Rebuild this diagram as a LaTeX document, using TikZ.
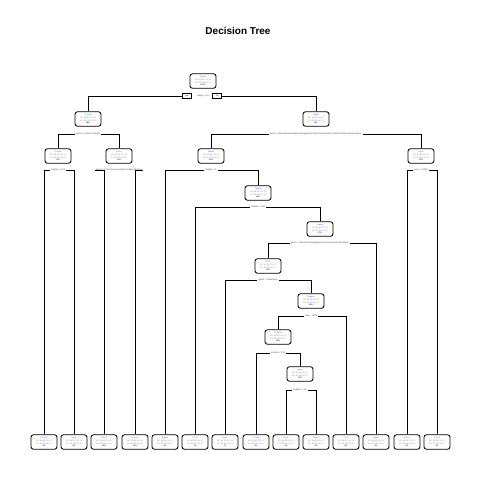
\documentclass[tikz,border=0pt]{standalone}
\usepackage{fontspec}
\setmainfont{Liberation Sans}
\definecolor{ca}{RGB}{230,60,60}
\definecolor{cb}{RGB}{60,160,60}
\definecolor{cc}{RGB}{60,90,220}
\definecolor{cd}{RGB}{200,60,200}
\definecolor{ce}{RGB}{220,150,40}
\definecolor{lab}{RGB}{70,70,70}
\newcommand\nums{\textcolor{ca}{.20} \textcolor{cb}{.18} \textcolor{cc}{.22} \textcolor{cd}{.21} \textcolor{ce}{.19}}
\newcommand\numsb{\textcolor{ca}{.12} \textcolor{cb}{.25} \textcolor{cc}{.19} \textcolor{cd}{.24} \textcolor{ce}{.20}}
\newcommand\bxt[3]{\textcolor{#2}{#1}\\\nums\\\numsb\\#3}
\tikzset{
  bx/.style={draw, rounded corners=2.5pt, line width=0.85pt, minimum width=26pt, minimum height=14.5pt,
    inner sep=0.5pt, align=center, font=\fontsize{2}{2.7}\selectfont, fill=white},
  splab/.style={fill=white, inner xsep=1pt, inner ysep=0.4pt, text=lab, font=\fontsize{2.3}{2.7}\selectfont},
  yn/.style={draw, line width=0.7pt, minimum width=9pt, minimum height=5.5pt, inner sep=0pt, font=\fontsize{2.2}{2.6}\selectfont},
  br/.style={line width=0.8pt},
}
\begin{document}
\begin{tikzpicture}[x=1pt,y=-1pt]
\useasboundingbox (0,0) rectangle (480,480);
\node[font=\bfseries\fontsize{10}{12}\selectfont] (title) at (238,31) {Decision Tree};
% internal nodes
\node[bx] (n0) at (203,81) {\bxt{Drama}{cc}{100\%}};
\node[bx] (nL) at (88,119) {\bxt{Comedy}{cb}{38\%}};
\node[bx] (nR) at (316,119) {\bxt{Drama}{cc}{62\%}};
\node[bx] (nLL) at (58,156) {\bxt{Comedy}{cb}{17\%}};
\node[bx] (nLR) at (119,156) {\bxt{Action}{ca}{21\%}};
\node[bx] (nRL) at (211,156) {\bxt{Drama}{cc}{52\%}};
\node[bx] (nRR) at (421,156) {\bxt{Horror}{cd}{10\%}};
\node[bx] (n258) at (258,193) {\bxt{Drama}{cc}{44\%}};
\node[bx] (n320) at (320,229) {\bxt{Drama}{cc}{37\%}};
\node[bx] (n268) at (268,266) {\bxt{Thriller}{ce}{31\%}};
\node[bx] (n311) at (311,301) {\bxt{Drama}{cc}{24\%}};
\node[bx] (n278) at (278,337) {\bxt{Comedy}{cb}{19\%}};
\node[bx] (n300) at (300,374) {\bxt{Drama}{cc}{11\%}};
% leaves
\foreach \i/\x/\c/\cl/\p in {1/44/Comedy/cb/9\%, 2/74/Action/ca/8\%, 3/104/Action/ca/10\%, 4/135/Comedy/cb/11\%,
  5/165/Drama/cc/8\%, 6/195/Thriller/ce/7\%, 7/225/Action/ca/7\%, 8/256/Comedy/cb/8\%, 9/286/Horror/cd/5\%,
  10/316/Drama/cc/6\%, 11/346/Thriller/ce/5\%, 12/376/Drama/cc/6\%, 13/407/Horror/cd/5\%, 14/437/Thriller/ce/5\%}
  \node[bx] (l\i) at (\x,442) {\bxt{\c}{\cl}{\p}};
% split labels
\node[splab] (s0) at (203,96) {rating < 6.5};
\node[yn] (yes) at (187,96) {yes};
\node[yn] (no) at (217,96) {no};
\node[splab] (sL) at (88,134) {genre = Action,Comedy};
\node[splab] (sR) at (316,134) {genre = Adventure,Animation,Biography,Crime,Documentary,Family,Fantasy,History,Music};
\node[splab] (sLL) at (58,170) {runtime < 101};
\node[splab] (sLR) at (119,170) {genre = Crime,Documentary,Fantasy,Mystery};
\node[splab] (sRL) at (211,170) {budget < 2};
\node[splab] (sRR) at (421,170) {year >= 2006};
\node[splab] (s258) at (258,207) {runtime < 118};
\node[splab] (s320) at (320,243) {genre = Adventure,Biography,Documentary,History,Music};
\node[splab] (s268) at (268,280) {genre = Adventure};
\node[splab] (s311) at (311,316) {year < 1999};
\node[splab] (s278) at (278,353) {runtime < 124};
\node[splab] (s300) at (300,390) {budget >= 15};
% branches
\draw[br] (nL.north) |- (yes.west);
\draw[br] (nR.north) |- (no.east);
\foreach \a/\s/\b in {nLL/sL/nLR, l1/sLL/l2, l3/sLR/l4, l5/sRL/n258, nRL/sR/nRR, l13/sRR/l14,
  l6/s258/n320, n268/s320/l12, l7/s268/n311, n278/s311/l11, l8/s278/n300, l9/s300/l10}
{
  \draw[br] (\a.north) |- (\s.west);
  \draw[br] (\b.north) |- (\s.east);
}
\end{tikzpicture}
\end{document}
